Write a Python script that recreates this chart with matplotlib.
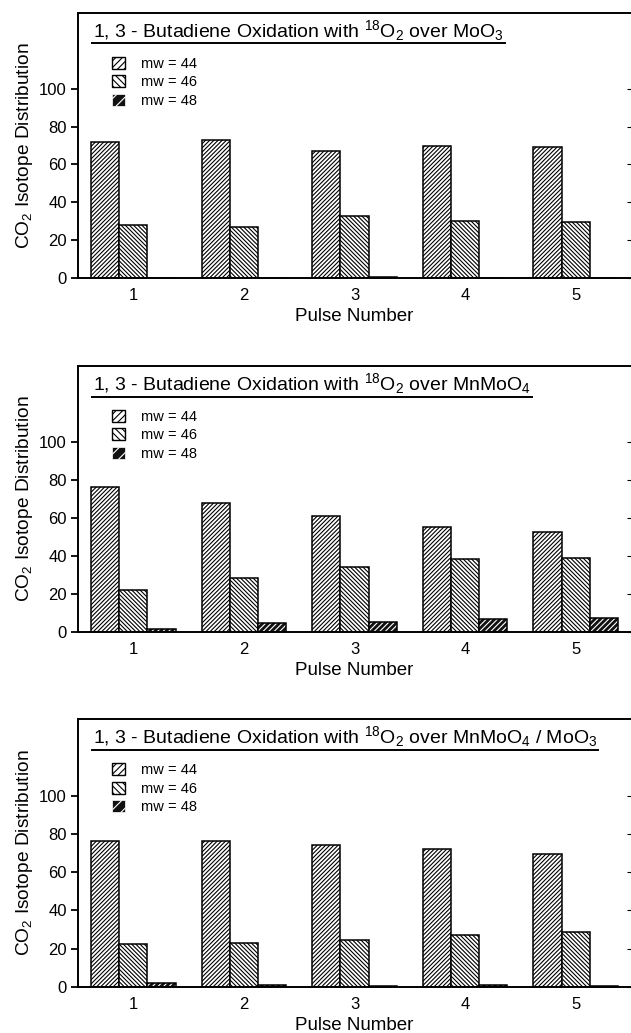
import matplotlib

matplotlib.use("Agg")
import matplotlib.pyplot as plt
import numpy as np
from matplotlib.patches import Patch

# pulse numbers and CO2 isotope distribution per catalyst (mw = 44 / 46 / 48)
pulses = [1, 2, 3, 4, 5]

moo3_44 = [72, 73, 67, 69.5, 69.3]
moo3_46 = [28, 27, 33, 30, 29.5]
moo3_48 = [0, 0, 0.4, 0, 0]

mnmoo4_44 = [76.5, 68, 61, 55, 52.5]
mnmoo4_46 = [22, 28.5, 34, 38.3, 39]
mnmoo4_48 = [1.7, 4.6, 5.2, 6.8, 7.3]

mix_44 = [76.5, 76.5, 74.2, 72, 69.5]
mix_46 = [22.3, 23, 24.7, 27.2, 28.8]
mix_48 = [2, 1, 0.8, 1, 0.8]

titles = [
    "1, 3 - Butadiene Oxidation with $^{18}$O$_2$ over MoO$_3$",
    "1, 3 - Butadiene Oxidation with $^{18}$O$_2$ over MnMoO$_4$",
    "1, 3 - Butadiene Oxidation with $^{18}$O$_2$ over MnMoO$_4$ / MoO$_3$",
]
series = [
    (moo3_44, moo3_46, moo3_48),
    (mnmoo4_44, mnmoo4_46, mnmoo4_48),
    (mix_44, mix_46, mix_48),
]
legend_labels = ["mw = 44", "mw = 46", "mw = 48"]
yticks = [0, 20, 40, 60, 80, 100]

plt.rcParams.update({
    "font.family": ["Liberation Sans", "DejaVu Sans"],
    "mathtext.fontset": "custom",
    "mathtext.rm": "Liberation Sans",
    "mathtext.default": "regular",
    "hatch.linewidth": 0.8,
    "axes.linewidth": 1.4,
})

fig = plt.figure(figsize=(6.31, 10.33), dpi=100)

# axes boxes in figure fraction: (bottom, height)
boxes = [(0.7309, 0.2565), (0.3882, 0.2575), (0.0445, 0.2594)]
left, width = 0.1236, 0.8764

fwd = "////////"
bwd = "\\" * 8

x = np.array(pulses, dtype=float)
bw = 0.255
axes = []
for (bottom, height), title, (s44, s46, s48) in zip(boxes, titles, series):
    ax = fig.add_axes([left, bottom, width, height])
    axes.append(ax)

    ax.bar(x - bw, s44, width=bw, facecolor="white", edgecolor="black",
           hatch=fwd, linewidth=1.1)
    ax.bar(x, s46, width=bw, facecolor="white", edgecolor="black",
           hatch=bwd, linewidth=1.1)
    # mw = 48: dark bars with white hatch, then a black outline on top
    ax.bar(x + bw, s48, width=bw, facecolor="#111111", edgecolor="white",
           hatch="//////", linewidth=0)
    ax.bar(x + bw, s48, width=bw, fill=False, edgecolor="black", linewidth=1.1)

    ax.set_xlim(0.5, 5.5)
    ax.set_ylim(0, 140)
    ax.set_yticks(yticks)
    ax.set_xticks(pulses)
    ax.tick_params(axis="y", direction="out", length=5, width=1.3, labelsize=12, pad=3)
    ax.tick_params(axis="x", length=0, labelsize=12, pad=7)
    ax.spines["right"].set_visible(False)

    sec = ax.secondary_yaxis("right")
    sec.set_yticks(yticks)
    sec.tick_params(direction="in", length=3, width=0.8, labelright=False)
    sec.spines["right"].set_visible(False)

    ax.set_ylabel("CO$_2$ Isotope Distribution", fontsize=13.8, labelpad=3)
    ax.set_xlabel("Pulse Number", fontsize=13.5, labelpad=4)

    ax.text(0.027, 0.909, title, transform=ax.transAxes, fontsize=14,
            ha="left", va="baseline")

    handles = [
        Patch(facecolor="white", edgecolor="black", hatch="/////", linewidth=1.0),
        Patch(facecolor="white", edgecolor="black", hatch="\\\\\\\\\\", linewidth=1.0),
        Patch(facecolor="#111111", edgecolor="white", hatch="///", linewidth=0.5),
    ]
    ax.legend(handles, legend_labels, loc="upper left", bbox_to_anchor=(0.062, 0.835),
              frameon=False, fontsize=10.5, handlelength=0.9, handleheight=0.9,
              handletextpad=1.1, labelspacing=0.3, borderpad=0, borderaxespad=0)

# underline each panel title
fig.canvas.draw()
for ax in axes:
    txt = ax.texts[0]
    bb = txt.get_window_extent().transformed(ax.transAxes.inverted())
    ax.plot([bb.x0 - 0.002, bb.x1 + 0.002], [0.885, 0.885], transform=ax.transAxes,
            color="black", linewidth=1.4, clip_on=False)

fig.savefig("out.png", dpi=100)
